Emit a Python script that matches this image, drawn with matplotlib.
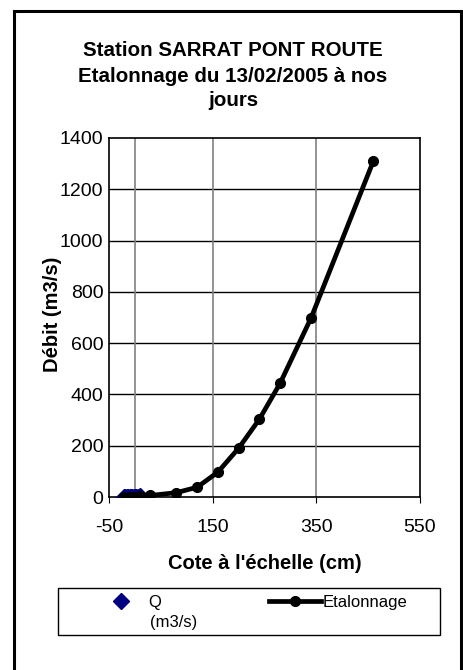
"""Courbe de tarage - station SARRAT PONT ROUTE."""

import matplotlib
matplotlib.use("Agg")
import matplotlib.pyplot as plt
from matplotlib.patches import Rectangle

plt.rcParams['font.family'] = ['Liberation Sans', 'DejaVu Sans']
plt.rcParams['axes.unicode_minus'] = False

# Jaugeages (Q)
cote_q = [-22, -19, -16, -13, -10, -8, -5, -2, 0, 3, 6, 10]
debit_q = [0, 0, 0, 0, 0.2, 0.3, 0.5, 0.7, 1, 1.2, 1.5, 2]

# Courbe d'etalonnage
cote_etal = [-22, -10, 0, 10, 30, 80, 120, 160, 200, 240, 280, 340, 460]
debit_etal = [0, 0.3, 1, 2, 6, 17, 38, 97, 190, 303, 443, 699, 1310]

xticks = [-50, 150, 350, 550]
yticks = list(range(0, 1401, 200))

W, H = 464, 670
fig = plt.figure(figsize=(W / 100, H / 100), dpi=100)

# cadre exterieur
fig.patches.append(Rectangle((14 / W, -0.02), (461 - 14) / W, 1 - 11 / H + 0.02,
                             transform=fig.transFigure, fill=False,
                             edgecolor='black', linewidth=2.2))

ax = fig.add_axes([109 / W, 1 - 497 / H, (420 - 109) / W, (497 - 138) / H])

q_line, = ax.plot(cote_q, debit_q, linestyle='none', marker='D', color='#000080',
                  markersize=8.5, zorder=3)
etal_line, = ax.plot(cote_etal, debit_etal, color='black', linewidth=3.4, marker='o',
                     markersize=7, zorder=4)

ax.set_xlim(-50, 550)
ax.set_ylim(0, 1400)
ax.set_xticks(xticks)
ax.set_yticks(yticks)
ax.tick_params(axis='x', direction='out', length=4, labelsize=14, pad=12)
ax.tick_params(axis='y', length=0, labelsize=14, pad=4)

for y in yticks[1:-1]:
    ax.axhline(y, color='black', linewidth=1, zorder=1)
for x in [0, 150, 350]:
    ax.axvline(x, color='#808080', linewidth=1.2, zorder=1)

for s in ax.spines.values():
    s.set_linewidth(1.2)

ax.set_xlabel("Cote à l'échelle (cm)", fontsize=14.5, fontweight='bold')
ax.set_ylabel("Débit (m3/s)", fontsize=14.5, fontweight='bold')
ax.xaxis.set_label_coords(0.5, -0.159)
ax.yaxis.set_label_coords(-0.15, 0.51)

fig.text(233 / W, 1 - 76 / H,
         "Station SARRAT PONT ROUTE\nEtalonnage du 13/02/2005 à nos\njours",
         ha='center', va='center', fontsize=14.8, fontweight='bold',
         linespacing=1.4)

# legende
fig.patches.append(Rectangle((58 / W, 1 - 635 / H), (440 - 58) / W, (635 - 588) / H,
                             transform=fig.transFigure, fill=False,
                             edgecolor='black', linewidth=1))
fig.legend([q_line, etal_line], ['Q', 'Etalonnage'], loc='center left',
           bbox_to_anchor=(95 / W, 1 - 602 / H), ncol=2, fontsize=12,
           frameon=False, borderpad=0, borderaxespad=0, handletextpad=0.12,
           handlelength=3.1, columnspacing=6.45)
fig.text(150 / W, 1 - 622 / H, '(m3/s)', fontsize=12, ha='left', va='center')

fig.savefig("out.png", dpi=100)
